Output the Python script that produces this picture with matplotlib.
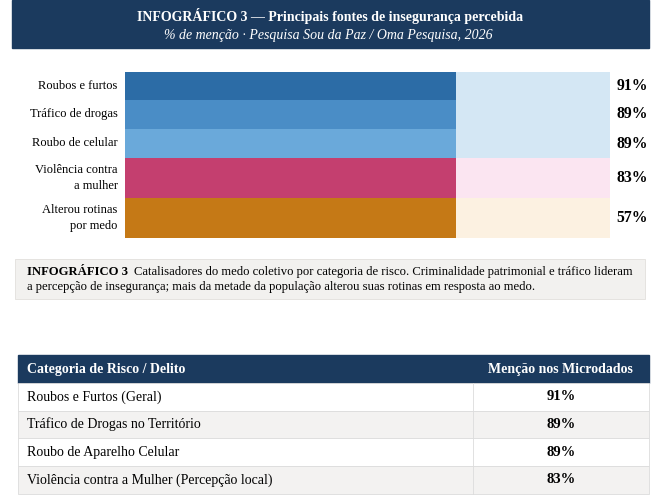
import matplotlib.pyplot as plt
from matplotlib.patches import Rectangle

plt.rcParams['font.family'] = ['Liberation Serif', 'DejaVu Serif']

# data
categories = ['Roubos e furtos', 'Tráfico de drogas', 'Roubo de celular',
              'Violência contra\na mulher', 'Alterou rotinas\npor medo']
values = [91, 89, 89, 83, 57]
fill_colors = ['#2c6ca6', '#4a8dc6', '#6aa9da', '#c43f6f', '#c57916']
track_colors = ['#d4e7f4', '#d4e7f4', '#d4e7f4', '#fbe5f1', '#fcf1e1']

table_cats = ['Roubos e Furtos (Geral)', 'Tráfico de Drogas no Território',
              'Roubo de Aparelho Celular', 'Violência contra a Mulher (Percepção local)']
table_vals = ['91%', '89%', '89%', '83%']

title = 'INFOGRÁFICO 3 — Principais fontes de insegurança percebida'
subtitle = '% de menção · Pesquisa Sou da Paz / Oma Pesquisa, 2026'
caption_bold = 'INFOGRÁFICO 3'
caption_text = ('Catalisadores do medo coletivo por categoria de risco. Criminalidade patrimonial e tráfico lideram\n'
                'a percepção de insegurança; mais da metade da população alterou suas rotinas em resposta ao medo.')

W, H = 668, 499
NAVY = '#1b3a5e'

fig = plt.figure(figsize=(W / 100, H / 100), dpi=100)
bg = fig.add_axes([0, 0, 1, 1])
bg.set_xlim(0, W)
bg.set_ylim(H, 0)
bg.axis('off')

# header band
bg.add_patch(Rectangle((12, 0), 637, 48, color=NAVY))
bg.text(330, 16, title, color='white', fontsize=10, fontweight='bold', ha='center', va='center')
bg.text(328, 35, subtitle, color='white', fontsize=10, style='italic', ha='center', va='center')

# bars
row_h = [28, 29, 29, 40, 40]
top = 72
edges = [top]
for h in row_h:
    edges.append(edges[-1] + h)
centers = [(edges[i] + edges[i + 1]) / 2 for i in range(len(row_h))]

ax = fig.add_axes([125 / W, 1 - edges[-1] / H, 485 / W, (edges[-1] - top) / H])
ax.barh(centers, [100] * len(values), height=row_h, color=track_colors, linewidth=0)
ax.barh(centers, [68.2] * len(values), height=row_h, color=fill_colors, linewidth=0)
ax.set_xlim(0, 100)
ax.set_ylim(edges[-1], top)
ax.axis('off')
for y, cat, v in zip(centers, categories, values):
    ax.text(-1.5, y, cat, ha='right', va='center', multialignment='right', fontsize=9,
            linespacing=1.4, clip_on=False)
    ax.text(101.4, y, f'{v}%', ha='left', va='center', fontsize=11.3, fontweight='bold', clip_on=False)

# caption box
bg.add_patch(Rectangle((15, 259), 630, 40, facecolor='#f2f1ef', edgecolor='#e2e0dc', linewidth=0.6))
cb = bg.text(27, 272, caption_bold, fontsize=9.1, fontweight='bold', ha='left', va='center')
bg.annotate(caption_text.split('\n')[0], xy=(1, 0.5), xycoords=cb, xytext=(4, 0),
            textcoords='offset points', fontsize=9.1, ha='left', va='center')
bg.text(27, 287, caption_text.split('\n')[1], fontsize=9.1, ha='left', va='center')

# table
tx0, tx1, tdiv = 18, 649, 473
bg.add_patch(Rectangle((tx0, 355), tx1 - tx0, 28, color=NAVY))
bg.text(27, 369, 'Categoria de Risco / Delito', color='white', fontsize=10, fontweight='bold',
        ha='left', va='center')
bg.text(560, 369, 'Menção nos Microdados', color='white', fontsize=10, fontweight='bold',
        ha='center', va='center')
row_top = 383
rh = 27.7
for i, (c, v) in enumerate(zip(table_cats, table_vals)):
    y0 = row_top + i * rh
    fc = 'white' if i % 2 == 0 else '#f3f2f1'
    bg.add_patch(Rectangle((tx0, y0), tx1 - tx0, rh, facecolor=fc, edgecolor='#dcdcdc', linewidth=0.6))
    bg.plot([tdiv, tdiv], [y0, y0 + rh], color='#dcdcdc', linewidth=0.6)
    bg.text(27, y0 + rh / 2, c, fontsize=10, ha='left', va='center')
    bg.text(561, y0 + rh / 2, v, fontsize=10.5, fontweight='bold', ha='center', va='center')

fig.savefig('out.png', dpi=100)
